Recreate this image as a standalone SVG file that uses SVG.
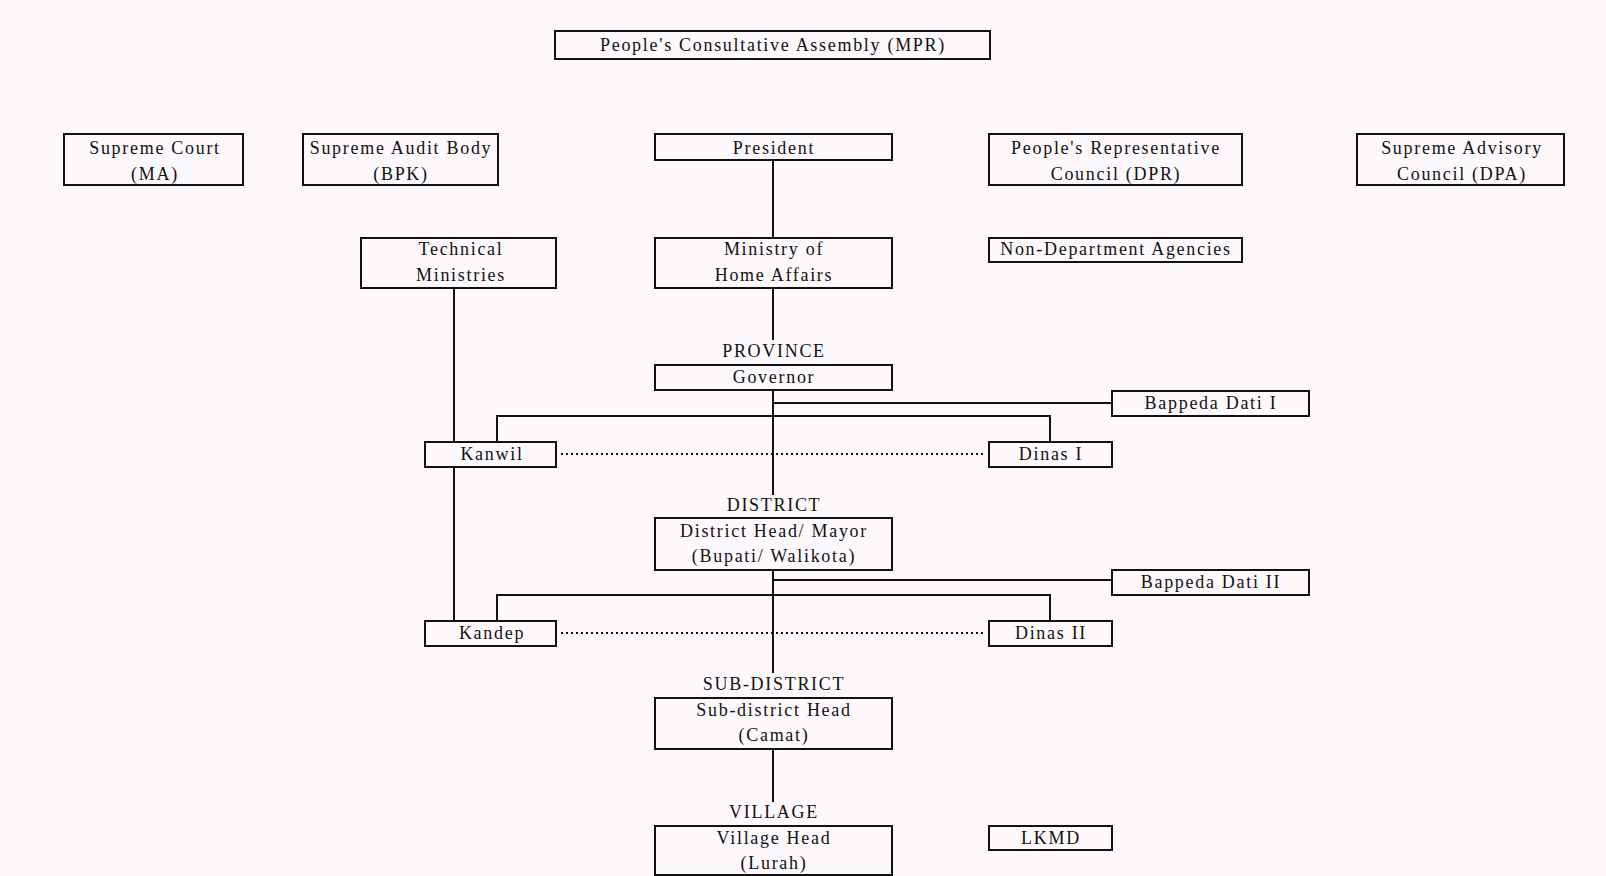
<svg xmlns="http://www.w3.org/2000/svg" width="1606" height="876" viewBox="0 0 1606 876">
<style>
.bg{fill:#fcf8fc}
.box{fill:#fcf8fc;stroke:#111;stroke-width:2}
.t{font-family:"Liberation Serif","Times New Roman",serif;font-size:18px;fill:#111;text-anchor:middle;letter-spacing:1.7px}
.ln{stroke:#111;stroke-width:2;fill:none}
.dot{stroke:#111;stroke-width:2;fill:none;stroke-dasharray:2 3}
</style>
<rect class="bg" x="0" y="0" width="1606" height="876"/>
<g id="connectors">
<line class="ln" x1="773" y1="160" x2="773" y2="238"/>
<line class="ln" x1="773" y1="288" x2="773" y2="340"/>
<line class="ln" x1="773" y1="390" x2="773" y2="495"/>
<line class="ln" x1="773" y1="570" x2="773" y2="673"/>
<line class="ln" x1="773" y1="749" x2="773" y2="802"/>
<line class="ln" x1="454" y1="288" x2="454" y2="442"/>
<line class="ln" x1="454" y1="467" x2="454" y2="621"/>
<polyline class="ln" points="773,403 1112,403"/>
<polyline class="ln" points="497,442 497,416 1050,416 1050,442"/>
<polyline class="ln" points="773,580 1112,580"/>
<polyline class="ln" points="497,621 497,595 1050,595 1050,621"/>
<line class="dot" x1="561" y1="454" x2="985" y2="454"/>
<line class="dot" x1="561" y1="633" x2="985" y2="633"/>
</g>
<g id="mpr"><rect class="box" x="555" y="31" width="435" height="28"/><text class="t" x="773" y="51">People's Consultative Assembly (MPR)</text></g>
<g id="supreme-court"><rect class="box" x="64" y="134" width="179" height="51"/><text class="t" x="155" y="154">Supreme Court</text><text class="t" x="155" y="180">(MA)</text></g>
<g id="bpk"><rect class="box" x="303" y="134" width="195" height="51"/><text class="t" x="401" y="154">Supreme Audit Body</text><text class="t" x="401" y="180">(BPK)</text></g>
<g id="president"><rect class="box" x="655" y="134" width="237" height="26"/><text class="t" x="774" y="154">President</text></g>
<g id="dpr"><rect class="box" x="989" y="134" width="253" height="51"/><text class="t" x="1116" y="154">People's Representative</text><text class="t" x="1116" y="180">Council (DPR)</text></g>
<g id="dpa"><rect class="box" x="1357" y="134" width="207" height="51"/><text class="t" x="1462" y="154">Supreme Advisory</text><text class="t" x="1462" y="180">Council (DPA)</text></g>
<g id="technical"><rect class="box" x="361" y="238" width="195" height="50"/><text class="t" x="461" y="255">Technical</text><text class="t" x="461" y="281">Ministries</text></g>
<g id="home-affairs"><rect class="box" x="655" y="238" width="237" height="50"/><text class="t" x="774" y="255">Ministry of</text><text class="t" x="774" y="281">Home Affairs</text></g>
<g id="nda"><rect class="box" x="989" y="238" width="253" height="24"/><text class="t" x="1116" y="255">Non-Department Agencies</text></g>
<g id="governor"><text class="t" x="774" y="357">PROVINCE</text><rect class="box" x="655" y="365" width="237" height="25"/><text class="t" x="774" y="383">Governor</text></g>
<g id="bappeda1"><rect class="box" x="1112" y="391" width="197" height="25"/><text class="t" x="1211" y="409">Bappeda Dati I</text></g>
<g id="kanwil"><rect class="box" x="425" y="442" width="131" height="25"/><text class="t" x="492" y="460">Kanwil</text></g>
<g id="dinas1"><rect class="box" x="989" y="442" width="123" height="25"/><text class="t" x="1051" y="460">Dinas I</text></g>
<g id="district"><text class="t" x="774" y="511">DISTRICT</text><rect class="box" x="655" y="518" width="237" height="52"/><text class="t" x="774" y="537">District Head/ Mayor</text><text class="t" x="774" y="562">(Bupati/ Walikota)</text></g>
<g id="bappeda2"><rect class="box" x="1112" y="570" width="197" height="25"/><text class="t" x="1211" y="588">Bappeda Dati II</text></g>
<g id="kandep"><rect class="box" x="425" y="621" width="131" height="25"/><text class="t" x="492" y="639">Kandep</text></g>
<g id="dinas2"><rect class="box" x="989" y="621" width="123" height="25"/><text class="t" x="1051" y="639">Dinas II</text></g>
<g id="subdistrict"><text class="t" x="774" y="690">SUB-DISTRICT</text><rect class="box" x="655" y="698" width="237" height="51"/><text class="t" x="774" y="716">Sub-district Head</text><text class="t" x="774" y="741">(Camat)</text></g>
<g id="village"><text class="t" x="774" y="818">VILLAGE</text><rect class="box" x="655" y="826" width="237" height="49"/><text class="t" x="774" y="844">Village Head</text><text class="t" x="774" y="869">(Lurah)</text></g>
<g id="lkmd"><rect class="box" x="989" y="826" width="123" height="24"/><text class="t" x="1051" y="844">LKMD</text></g>
</svg>
